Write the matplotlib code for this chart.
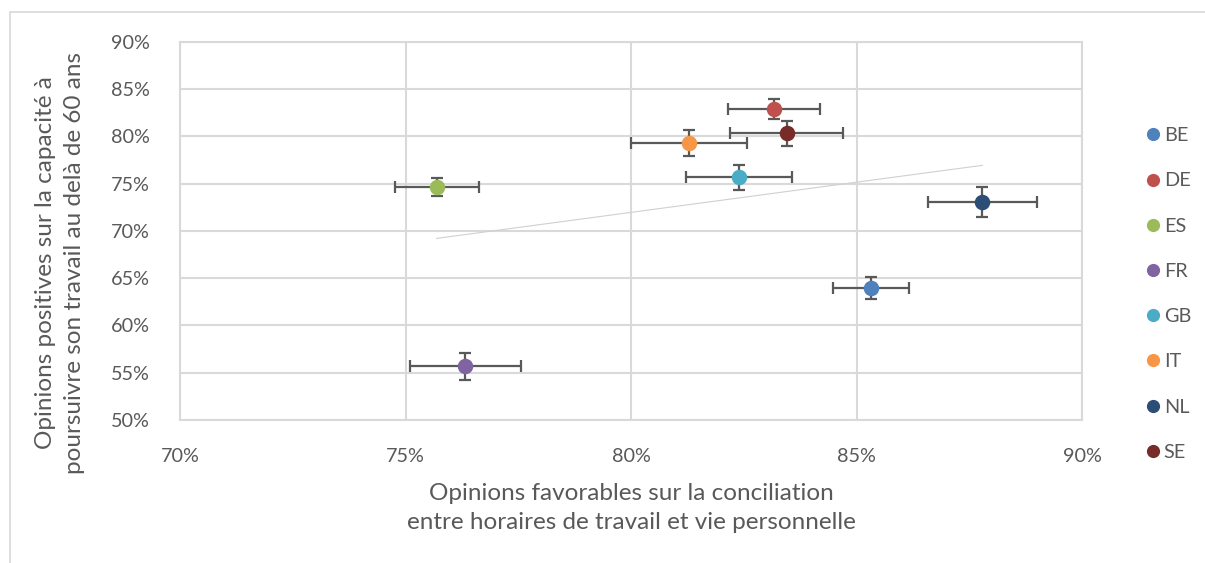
import numpy as np
import matplotlib
matplotlib.use("Agg")
import matplotlib.pyplot as plt
from matplotlib.lines import Line2D
from matplotlib.ticker import FuncFormatter
from matplotlib.patches import Rectangle

plt.rcParams['font.family'] = ['Lato', 'DejaVu Sans']

# Country data (percentages)
countries = ["BE", "DE", "ES", "FR", "GB", "IT", "NL", "SE"]
work_life = [85.32, 83.17, 75.69, 76.33, 82.40, 81.29, 87.79, 83.45]
work_after_60 = [63.93, 82.93, 74.67, 55.67, 75.68, 79.31, 73.08, 80.36]
err_x = [0.84, 1.03, 0.93, 1.23, 1.17, 1.28, 1.21, 1.26]
err_y = [1.15, 1.08, 0.97, 1.45, 1.30, 1.37, 1.60, 1.33]
colors = ["#4F81BD", "#C0504D", "#9BBB59", "#8064A2",
          "#4BACC6", "#F79646", "#2C4D75", "#772C2A"]

x_ticks = [70, 75, 80, 85, 90]
y_ticks = [50, 55, 60, 65, 70, 75, 80, 85, 90]

TEXT = "#595959"
GRID = "#D9D9D9"

W, H = 1205, 563
fig = plt.figure(figsize=(W / 100, H / 100), dpi=100)

# Chart area frame
fig.patches.append(Rectangle((10 / W, -0.01), 1.1, (563 - 12) / H + 0.01,
                             transform=fig.transFigure, fill=False,
                             edgecolor=GRID, linewidth=1.2))

left, right, top, bottom = 180, 1082, 42, 420
ax = fig.add_axes([left / W, (H - bottom) / H, (right - left) / W, (bottom - top) / H])

ax.set_xlim(70, 90)
ax.set_ylim(50, 90)
ax.set_xticks(x_ticks)
ax.set_yticks(y_ticks)
pct = FuncFormatter(lambda v, p: f"{v:.0f}%")
ax.xaxis.set_major_formatter(pct)
ax.yaxis.set_major_formatter(pct)
ax.tick_params(length=0, labelsize=14.3, colors=TEXT)
ax.tick_params(axis='x', pad=20)
ax.tick_params(axis='y', pad=22)
ax.grid(True, color=GRID, linewidth=1.5)
ax.set_axisbelow(True)
for s in ax.spines.values():
    s.set_color(GRID)
    s.set_linewidth(1.5)

# Linear trendline over the range of the data
coef = np.polyfit(work_life, work_after_60, 1)
xt = np.array([min(work_life), max(work_life)])
ax.plot(xt, np.polyval(coef, xt), color="#D0D0D0", linewidth=0.8, zorder=2)

for i, c in enumerate(countries):
    ax.errorbar(work_life[i], work_after_60[i], xerr=err_x[i], yerr=err_y[i],
                fmt='none', ecolor="#595959", elinewidth=1.6, capsize=4.5,
                capthick=1.6, zorder=3)
for i, c in enumerate(countries):
    ax.scatter(work_life[i], work_after_60[i], s=125, color=colors[i],
               zorder=4, linewidths=0)

# Legend
handles = [Line2D([], [], linestyle='none', marker='o', markersize=9.5,
                  markerfacecolor=colors[i], markeredgewidth=0, label=c)
           for i, c in enumerate(countries)]
fig.legend(handles=handles, loc='center left', bbox_to_anchor=(1132 / W, (H - 294) / H),
           frameon=False, fontsize=14.3, labelcolor=TEXT, handletextpad=0.0,
           labelspacing=1.42, handlelength=1.1, borderpad=0)

fig.text((left + right) / 2 / W, (H - 508) / H,
         "Opinions favorables sur la conciliation\nentre horaires de travail et vie personnelle",
         ha='center', va='center', fontsize=17.5, color=TEXT, linespacing=1.45)
fig.text(60 / W, (H - 263) / H,
         "Opinions positives sur la capacité à\npoursuivre son travail au delà de 60 ans",
         ha='center', va='center', rotation=90, fontsize=17.5, color=TEXT,
         linespacing=1.45)

fig.savefig("out.png", dpi=100)
